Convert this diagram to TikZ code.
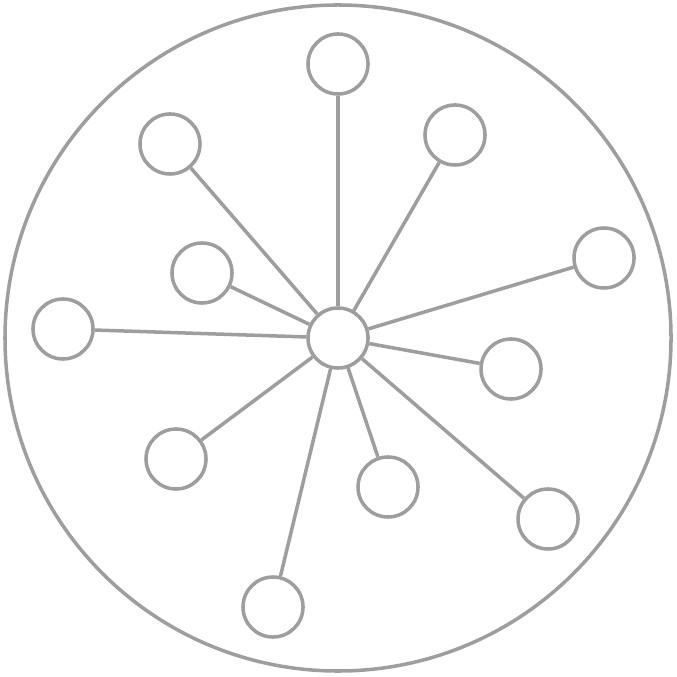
\documentclass[tikz,border=0pt]{standalone}
\usepackage{tikz}
\usetikzlibrary{positioning}
\definecolor{hubgray}{HTML}{9E9E9E}
\tikzset{
  leaf/.style={circle,draw=hubgray,line width=1pt,fill=white,minimum size=0.6cm,inner sep=0pt},
  spoke/.style={draw=hubgray,line width=1pt}
}
\begin{document}
\begin{tikzpicture}[x=0.01cm,y=-0.01cm]
\useasboundingbox (0,0) rectangle (677,677);
\draw [hubgray,line width=1pt] (338,338) circle (333);

\node[leaf] (hub) at (338,338) {};

\node[leaf] (n1) at (338,64) {};
\node[leaf] (n2) at (170,144) {};
\node[leaf] (n3) at (455,135) {};
\node[leaf] (n4) at (202,273) {};
\node[leaf] (n5) at (604,258) {};
\node[leaf] (n6) at (63,329) {};
\node[leaf] (n7) at (511,369) {};
\node[leaf] (n8) at (176,459) {};
\node[leaf] (n9) at (388,487) {};
\node[leaf] (n10) at (548,519) {};
\node[leaf] (n11) at (273,607) {};

\foreach \n in {n1,n2,n3,n4,n5,n6,n7,n8,n9,n10,n11}
  \draw [spoke] (hub)--(\n);
\end{tikzpicture}
\end{document}
